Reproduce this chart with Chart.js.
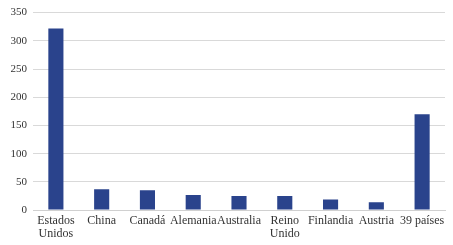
<!DOCTYPE html>
<html>
<head>
<meta charset="utf-8">
<script src="https://cdn.jsdelivr.net/npm/chart.js@4/dist/chart.umd.min.js"></script>
<style>
  html, body { margin: 0; padding: 0; background: #fff; }
  #wrap { width: 453px; height: 245px; }
</style>
</head>
<body>
<div id="wrap"><canvas id="chart"></canvas></div>
<script>
const categories = [["Estados", "Unidos"], "China", "Canadá", "Alemania", "Australia", ["Reino", "Unido"], "Finlandia", "Austria", "39 países"];
const values = [322, 37, 35, 27, 25, 25, 19, 14, 170];
const yTicks = [0, 50, 100, 150, 200, 250, 300, 350];

const ctx = document.getElementById('chart');

new Chart(ctx, {
  type: 'bar',
  data: {
    labels: categories,
    datasets: [{
      data: values,
      backgroundColor: '#2a438c',
      borderWidth: 0,
      categoryPercentage: 1,
      barPercentage: 0.33,
    }]
  },
  options: {
    responsive: true,
    maintainAspectRatio: false,
    animation: false,
    layout: {
      padding: { top: 0, right: 8, left: 0, bottom: 0 }
    },
    plugins: {
      legend: { display: false },
      tooltip: { enabled: false },
    },
    scales: {
      x: {
        grid: { display: false, drawTicks: false },
        border: { color: '#d0d0d0', width: 1 },
        ticks: {
          color: '#333',
          maxRotation: 0,
          autoSkip: false,
          padding: 4,
          font: { family: 'Liberation Serif', size: 12, lineHeight: 1.12 },
        },
      },
      y: {
        min: 0,
        max: 350,
        afterFit: (scale) => { scale.width = 33; },
        afterBuildTicks: (scale) => {
          scale.ticks = yTicks.map(v => ({ value: v }));
        },
        grid: { color: '#d9d9d9', drawTicks: false },
        border: { display: false },
        ticks: {
          color: '#333',
          padding: 6,
          font: { family: 'Liberation Serif', size: 11 },
        },
      }
    }
  }
});
</script>
</body>
</html>
